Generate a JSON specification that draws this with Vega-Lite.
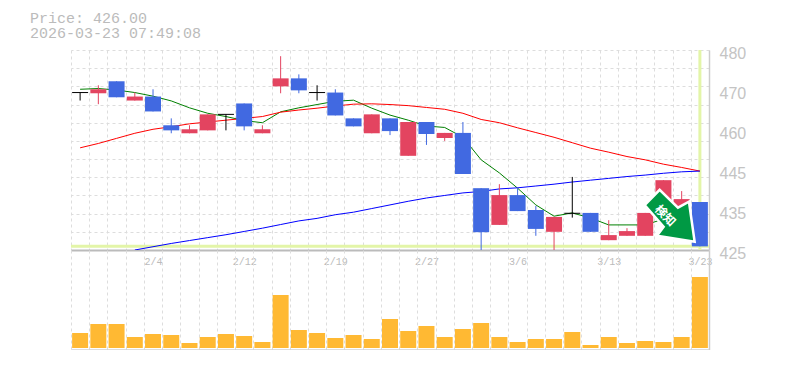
{
"$schema":"https://vega.github.io/schema/vega-lite/v6.json",
"autosize":{"type":"pad"},
"padding":{"left":30,"top":11,"right":0,"bottom":0},
"background":"white",
"config":{"view":{"stroke":null},"axis":{"title":null}},
"title":{"text":["Price: 426.00","2026-03-23 07:49:08"],"anchor":"start","frame":"group","dx":-41,"offset":4,"font":"Liberation Mono","fontSize":15,"fontWeight":"normal","color":"#bbbbbb","lineHeight":15},
"datasets":{
"rows":[
{"date":"1/29","open":468.3,"high":468.3,"low":466.1,"close":468.3,"vol":15,"ma5":469.2,"ma25":453.1,"ma75":null},
{"date":"1/30","open":468.1,"high":470.3,"low":465.1,"close":469.2,"vol":24,"ma5":469.4,"ma25":454.3,"ma75":null},
{"date":"2/2","open":471.4,"high":471.4,"low":467,"close":467,"vol":24,"ma5":469,"ma25":455.7,"ma75":null},
{"date":"2/3","open":466.1,"high":468.3,"low":466.1,"close":467.2,"vol":11,"ma5":468.3,"ma25":457.1,"ma75":425},
{"date":"2/4","open":467.2,"high":469.2,"low":463.1,"close":463.1,"vol":14,"ma5":467.3,"ma25":458.2,"ma75":425.9},
{"date":"2/5","open":459.3,"high":461.2,"low":457.1,"close":457.9,"vol":13,"ma5":466,"ma25":458.9,"ma75":426.8},
{"date":"2/6","open":457.1,"high":459.3,"low":457.1,"close":458.2,"vol":5,"ma5":464.1,"ma25":459.7,"ma75":427.6},
{"date":"2/9","open":457.9,"high":462.3,"low":457.9,"close":462.3,"vol":11,"ma5":462.6,"ma25":460.2,"ma75":428.4},
{"date":"2/10","open":462.3,"high":462.3,"low":457.9,"close":462.3,"vol":14,"ma5":461.7,"ma25":460.7,"ma75":429.2},
{"date":"2/12","open":465.3,"high":465.3,"low":457.9,"close":459,"vol":12,"ma5":460.6,"ma25":461.2,"ma75":430.1},
{"date":"2/13","open":457.1,"high":459.3,"low":457.1,"close":458.2,"vol":6,"ma5":460,"ma25":461.7,"ma75":431},
{"date":"2/16","open":470,"high":478.3,"low":468.1,"close":472.2,"vol":53,"ma5":463,"ma25":462.9,"ma75":432},
{"date":"2/17","open":472.2,"high":473.3,"low":468.1,"close":468.9,"vol":18,"ma5":464.1,"ma25":463.5,"ma75":433},
{"date":"2/18","open":468.3,"high":470.3,"low":466.1,"close":468.3,"vol":15,"ma5":465,"ma25":464,"ma75":433.7},
{"date":"2/19","open":468.3,"high":469.2,"low":462,"close":462,"vol":10,"ma5":465.9,"ma25":464.6,"ma75":434.7},
{"date":"2/20","open":461.2,"high":461.2,"low":459,"close":459,"vol":13,"ma5":466.2,"ma25":465.1,"ma75":435.4},
{"date":"2/24","open":457.1,"high":462.3,"low":457.1,"close":462.3,"vol":9,"ma5":464,"ma25":465.2,"ma75":436.4},
{"date":"2/25","open":461.2,"high":461.2,"low":456.6,"close":457.7,"vol":29,"ma5":462.1,"ma25":465,"ma75":437.4},
{"date":"2/26","open":450.9,"high":460.2,"low":450.9,"close":460.2,"vol":17,"ma5":460.7,"ma25":464.7,"ma75":438.4},
{"date":"2/27","open":460.2,"high":460.2,"low":453.9,"close":456.9,"vol":22,"ma5":459.1,"ma25":464.2,"ma75":439.3},
{"date":"3/2","open":455.8,"high":457.2,"low":455,"close":457.2,"vol":11,"ma5":458.7,"ma25":463.7,"ma75":440},
{"date":"3/3","open":457.2,"high":460.2,"low":445.9,"close":445.9,"vol":19,"ma5":456,"ma25":462.6,"ma75":440.7},
{"date":"3/4","open":442,"high":442,"low":425,"close":429.9,"vol":25,"ma5":449.8,"ma25":460.9,"ma75":441.1},
{"date":"3/5","open":431.9,"high":443.1,"low":431.9,"close":440.1,"vol":11,"ma5":446.2,"ma25":460,"ma75":441.8},
{"date":"3/6","open":440.1,"high":442,"low":435.7,"close":435.7,"vol":6,"ma5":442,"ma25":458.6,"ma75":442.1},
{"date":"3/9","open":436,"high":437.1,"low":428.9,"close":430.8,"vol":9,"ma5":437.4,"ma25":457.3,"ma75":442.6},
{"date":"3/10","open":430,"high":434.1,"low":425,"close":434.1,"vol":9,"ma5":434.3,"ma25":456,"ma75":443.1},
{"date":"3/11","open":435.1,"high":445.1,"low":433.9,"close":435.1,"vol":16,"ma5":435.2,"ma25":454.5,"ma75":443.7},
{"date":"3/12","open":435.2,"high":435.2,"low":430,"close":430,"vol":3,"ma5":433.8,"ma25":453,"ma75":444.2},
{"date":"3/13","open":427.7,"high":433.2,"low":427.7,"close":429.1,"vol":11,"ma5":431.9,"ma25":451.9,"ma75":444.7},
{"date":"3/16","open":428.9,"high":431,"low":428.9,"close":430.2,"vol":5,"ma5":431.9,"ma25":450.7,"ma75":445.2},
{"date":"3/17","open":428.9,"high":435.2,"low":428.9,"close":435.2,"vol":7,"ma5":431.9,"ma25":449.8,"ma75":445.6},
{"date":"3/18","open":435.2,"high":444.2,"low":435.2,"close":444.2,"vol":6,"ma5":433.5,"ma25":448.6,"ma75":446.1},
{"date":"3/19","open":436,"high":441.2,"low":436,"close":439,"vol":11,"ma5":434.5,"ma25":447.7,"ma75":446.5},
{"date":"3/23","open":438.2,"high":438.2,"low":426,"close":426,"vol":71,"ma5":434,"ma25":446.7,"ma75":446.7}
],
"icon":[{"date":"3/19","price":434.35}],
"iconText":[{"date":"3/18","price":434.9,"text":"検知"}]
},
"spacing":0,
"bounds":"flush",
"vconcat":[
{
"width":638,"height":200,
"resolve":{"axis":{"y":"independent"}},
"data":{"name":"rows"},
"layer":[
{"transform":[{"filter":"datum.date=='3/23'"}],
 "mark":{"type":"rule","color":"#e3f5a8","strokeWidth":3},
 "encoding":{
  "x":{"field":"date","type":"ordinal","sort":null,"scale":{"type":"band","paddingInner":0,"paddingOuter":0,"domain":["1/29","1/30","2/2","2/3","2/4","2/5","2/6","2/9","2/10","2/12","2/13","2/16","2/17","2/18","2/19","2/20","2/24","2/25","2/26","2/27","3/2","3/3","3/4","3/5","3/6","3/9","3/10","3/11","3/12","3/13","3/16","3/17","3/18","3/19","3/23"]},
   "axis":{"tickBand":"extent","grid":true,"gridColor":"#dddddd","gridDash":[3,3],"gridWidth":1,"ticks":false,"labelAngle":0,"labelOverlap":false,"labelFont":"Liberation Mono","labelFontSize":10,"labelColor":"#bbbbbb","labelPadding":11,"labelBaseline":"middle","domainColor":"#bbbbbb","domainWidth":2,
    "labelExpr":"indexof(['2/4','2/12','2/19','2/27','3/6','3/13','3/23'],datum.label)>=0?datum.label:''"}}
 }},
{"transform":[{"filter":"datum.date=='3/23'"}],
 "mark":{"type":"rule","color":"#e3f5a8","strokeWidth":3},
 "encoding":{
  "y":{"field":"close","type":"quantitative","scale":{"domain":[425,480],"nice":false,"zero":false},
   "axis":{"orient":"right","values":[425,430,435,440,445,450,455,460,465,470,475,480],"grid":true,"gridColor":"#dddddd","gridDash":[3,3],"gridWidth":1,"labels":false,"ticks":false,"domainColor":"#cccccc","domainWidth":1.5}}
 }},
{"mark":{"type":"rule","opacity":0},
 "encoding":{
  "y":{"field":"close","type":"quantitative",
   "axis":{"orient":"right","values":[480,469,458,447,436,425],"grid":false,"ticks":false,"domain":false,"labelPadding":10,"labelOffset":3,"labelFont":"Liberation Sans","labelFontSize":16,"labelColor":"#c4c4c4","labelBaseline":"middle",
    "labelExpr":"datum.value==469?'470':datum.value==458?'460':datum.value==447?'445':datum.value==436?'435':datum.label"}}
 }},
{"mark":{"type":"line","color":"#008000","strokeWidth":1,"clip":true},
 "encoding":{"x":{"field":"date","type":"ordinal","sort":null},"y":{"field":"ma5","type":"quantitative","axis":null}}},
{"mark":{"type":"line","color":"#ff0000","strokeWidth":1,"clip":true},
 "encoding":{"x":{"field":"date","type":"ordinal","sort":null},"y":{"field":"ma25","type":"quantitative","axis":null}}},
{"mark":{"type":"line","color":"#0000ff","strokeWidth":1,"clip":true},
 "encoding":{"x":{"field":"date","type":"ordinal","sort":null},"y":{"field":"ma75","type":"quantitative","axis":null}}},
{"mark":{"type":"rule","strokeWidth":1},
 "encoding":{"x":{"field":"date","type":"ordinal","sort":null},"y":{"field":"low","type":"quantitative","axis":null},"y2":{"field":"high"},
  "color":{"condition":[{"test":"datum.close==datum.open","value":"#000000"},{"test":"datum.close>datum.open","value":"#e34460"}],"value":"#4169e1"}}},
{"transform":[{"filter":"datum.close!=datum.open"}],
 "mark":{"type":"bar","size":16},
 "encoding":{"x":{"field":"date","type":"ordinal","sort":null},"y":{"field":"open","type":"quantitative","axis":null},"y2":{"field":"close"},
  "color":{"condition":{"test":"datum.close>datum.open","value":"#e34460"},"value":"#4169e1"}}},
{"transform":[{"filter":"datum.close==datum.open"}],
 "mark":{"type":"tick","size":16,"thickness":1,"color":"#000000","opacity":1},
 "encoding":{"x":{"field":"date","type":"ordinal","sort":null},"y":{"field":"close","type":"quantitative","axis":null}}},
{"data":{"name":"icon"},
 "mark":{"type":"point","filled":true,"opacity":1,"fill":"#009944","stroke":"#ffffff","strokeWidth":2.5,"size":2500,
  "shape":"M-1.48,-0.44L-0.88,-1.05L-0.148,-0.332L0.292,-0.572L0.52,1.028L-0.988,0.788L-0.72,0.428Z"},
 "encoding":{"x":{"field":"date","type":"ordinal","sort":null},"y":{"field":"price","type":"quantitative","axis":null}}},
{"data":{"name":"iconText"},
 "mark":{"type":"text","angle":45,"font":"Noto Sans CJK JP","fontWeight":"bold","fontSize":12,"color":"#ffffff","dx":2.5},
 "encoding":{"x":{"field":"date","type":"ordinal","sort":null},"y":{"field":"price","type":"quantitative","axis":null},"text":{"field":"text"}}}
]
},
{
"width":638,"height":100,
"data":{"name":"rows"},
"mark":{"type":"bar","size":16,"color":"#ffb933"},
"encoding":{
 "x":{"field":"date","type":"ordinal","sort":null,"scale":{"type":"band","paddingInner":0,"paddingOuter":0},
  "axis":{"tickBand":"extent","grid":true,"gridColor":"#dddddd","gridDash":[3,3],"gridWidth":1,"ticks":false,"labels":false,"domainColor":"#bbbbbb","domainWidth":2}},
 "y":{"field":"vol","type":"quantitative","scale":{"domain":[-2,98],"nice":false,"zero":false},
  "axis":{"orient":"right","labels":false,"ticks":false,"grid":false,"domainColor":"#cccccc","domainWidth":1.5}}
}
}
]
}
